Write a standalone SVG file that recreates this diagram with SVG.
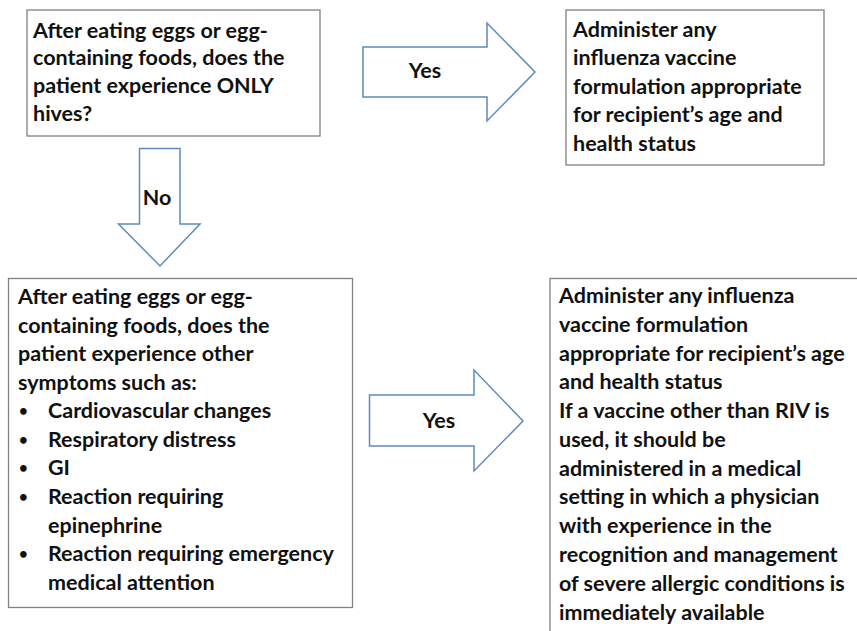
<svg xmlns="http://www.w3.org/2000/svg" width="857" height="631" viewBox="0 0 857 631">
<style>
.box{fill:#fff;stroke:#808080;stroke-width:1.3}
.arr{fill:#fff;stroke:#5f8bbd;stroke-width:1.5;stroke-linejoin:miter}
text{font-family:Lato,"Liberation Sans",sans-serif;font-weight:700;font-size:21.5px;fill:#111}
.b{font-size:15px}
</style>
<rect width="857" height="631" fill="#fff"/>
<g id="q1">
<rect class="box" x="27" y="10" width="293" height="126"/>
<text x="33" y="38">After eating eggs or egg-</text>
<text x="33" y="65">containing foods, does the</text>
<text x="33" y="93">patient experience ONLY</text>
<text x="33" y="121">hives?</text>
</g>
<g id="a1">
<rect class="box" x="566" y="10" width="258" height="155"/>
<text x="573" y="37">Administer any</text>
<text x="573" y="65">influenza vaccine</text>
<text x="573" y="94">formulation appropriate</text>
<text x="573" y="122">for recipient’s age and</text>
<text x="573" y="151">health status</text>
</g>
<g id="q2">
<rect class="box" x="8.5" y="278.5" width="344" height="329"/>
<text x="18" y="304">After eating eggs or egg-</text>
<text x="18" y="333">containing foods, does the</text>
<text x="18" y="361">patient experience other</text>
<text x="18" y="390">symptoms such as:</text>
<text class="b" x="19" y="416">•</text><text x="48" y="418">Cardiovascular changes</text>
<text class="b" x="19" y="445">•</text><text x="48" y="447">Respiratory distress</text>
<text class="b" x="19" y="473">•</text><text x="48" y="475">GI</text>
<text class="b" x="19" y="502">•</text><text x="48" y="504">Reaction requiring</text>
<text x="48" y="533">epinephrine</text>
<text class="b" x="19" y="559">•</text><text x="48" y="561">Reaction requiring emergency</text>
<text x="48" y="590">medical attention</text>
</g>
<g id="a2">
<rect class="box" x="550" y="278.5" width="320" height="400"/>
<text x="559" y="303">Administer any influenza</text>
<text x="559" y="332">vaccine formulation</text>
<text x="559" y="361">appropriate for recipient’s age</text>
<text x="559" y="389">and health status</text>
<text x="559" y="418">If a vaccine other than RIV is</text>
<text x="559" y="447">used, it should be</text>
<text x="559" y="476">administered in a medical</text>
<text x="559" y="504">setting in which a physician</text>
<text x="559" y="533">with experience in the</text>
<text x="559" y="562">recognition and management</text>
<text x="559" y="591">of severe allergic conditions is</text>
<text x="559" y="620">immediately available</text>
</g>
<g id="connectors">
<g id="yes1">
<polygon class="arr" points="363,47 487,47 487,23 535,72 487,121 487,97 363,97"/>
<text x="425" y="78" text-anchor="middle">Yes</text>
</g>
<g id="no1">
<polygon class="arr" points="139.5,148.5 180,148.5 180,224 200,224 160,266 118.5,224 139.5,224"/>
<text x="157" y="205" text-anchor="middle">No</text>
</g>
<g id="yes2">
<polygon class="arr" points="369.5,395 474,395 474,370 523,421 474,471 474,446 369.5,446"/>
<text x="439" y="428" text-anchor="middle">Yes</text>
</g>
</g>
</svg>
